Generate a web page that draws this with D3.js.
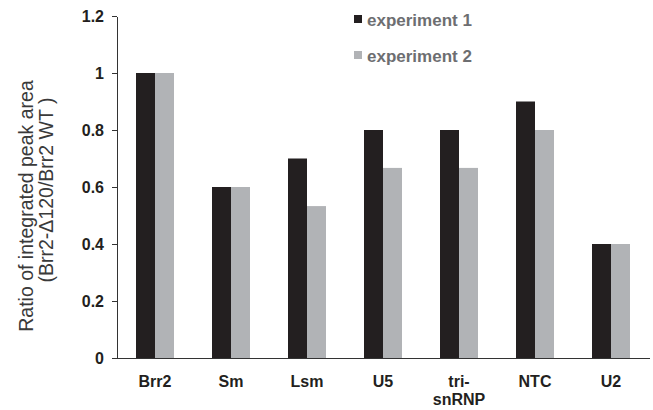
<!DOCTYPE html>
<html>
<head>
<meta charset="utf-8">
<script src="https://cdn.jsdelivr.net/npm/d3@7"></script>
<style>
  body { margin: 0; background: #fff; }
  svg { display: block; font-family: "Liberation Sans", Arial, sans-serif; }
  .axis path, .axis line { stroke: #333; shape-rendering: crispEdges; }
</style>
</head>
<body>
<div id="chart"></div>
<script>
// chart values
const categories = ["Brr2", "Sm", "Lsm", "U5", "tri-\nsnRNP", "NTC", "U2"];
const experiment1 = [1.0, 0.6, 0.7, 0.8, 0.8, 0.9, 0.4];
const experiment2 = [1.0, 0.6, 0.533, 0.667, 0.667, 0.8, 0.4];
const seriesNames = ["experiment 1", "experiment 2"];
const seriesColors = ["#231f20", "#b1b3b6"];
const yTicks = [0, 0.2, 0.4, 0.6, 0.8, 1, 1.2];

const width = 653, height = 410;
const plot = {left: 117, right: 649, top: 16, bottom: 358};

const svg = d3.select("#chart").append("svg")
    .attr("width", width)
    .attr("height", height);

const x = d3.scaleBand()
    .domain(categories)
    .range([plot.left, plot.right])
    .paddingInner(0.5)
    .paddingOuter(0.25);

const xSub = d3.scaleBand()
    .domain([0, 1])
    .range([0, x.bandwidth()]);

const y = d3.scaleLinear()
    .domain([0, 1.2])
    .range([plot.bottom, plot.top]);

// bars
const rows = categories.map((c, i) => ({cat: c, vals: [experiment1[i], experiment2[i]]}));
const groups = svg.selectAll(".grp")
    .data(rows)
    .enter().append("g")
    .attr("class", "grp")
    .attr("transform", d => `translate(${x(d.cat)},0)`);

groups.selectAll("rect")
    .data(d => d.vals)
    .enter().append("rect")
    .attr("x", (d, i) => xSub(i))
    .attr("width", xSub.bandwidth())
    .attr("y", d => y(d))
    .attr("height", d => plot.bottom - y(d))
    .attr("fill", (d, i) => seriesColors[i]);

// y axis
const yAxis = d3.axisLeft(y)
    .tickValues(yTicks)
    .tickFormat(d => d3.format("")(+d.toFixed(1)))
    .tickSize(5)
    .tickPadding(8)
    .tickSizeOuter(0);

const gy = svg.append("g")
    .attr("class", "axis y-axis")
    .attr("transform", `translate(${plot.left},0)`)
    .call(yAxis);

gy.selectAll("text")
    .attr("dy", "0.36em")
    .attr("fill", "#231f20")
    .style("font-size", "16px")
    .style("font-weight", "bold");

// x axis
const xAxis = d3.axisBottom(x)
    .tickSize(0)
    .tickSizeOuter(0);

const gx = svg.append("g")
    .attr("class", "axis x-axis")
    .attr("transform", `translate(0,${plot.bottom})`)
    .call(xAxis);

gx.selectAll("text").each(function(d) {
    const t = d3.select(this);
    t.text(null)
        .attr("dy", null)
        .attr("y", 29)
        .attr("fill", "#231f20")
        .style("font-size", "16px")
        .style("font-weight", "bold");
    d.split("\n").forEach((line, i) => {
        t.append("tspan").attr("x", 0).attr("y", 29 + i * 18).text(line);
    });
});

// y title
const yTitle = ["Ratio of integrated peak area", "(Brr2-\u0394120/Brr2 WT )"];
const titlePos = [{x: 33, y: 206}, {x: 53, y: 190}];
yTitle.forEach((line, i) => {
    svg.append("text")
        .attr("transform", `translate(${titlePos[i].x},${titlePos[i].y}) rotate(-90)`)
        .attr("text-anchor", "middle")
        .attr("fill", "#3a3a3a")
        .style("font-size", "19.5px")
        .text(line);
});

// legend
const legend = svg.selectAll(".legend")
    .data(seriesNames)
    .enter().append("g")
    .attr("class", "legend")
    .attr("transform", (d, i) => `translate(354,${15 + i * 36})`);

legend.append("rect")
    .attr("width", 8)
    .attr("height", 8)
    .attr("fill", (d, i) => seriesColors[i]);

legend.append("text")
    .attr("x", 13)
    .attr("y", 11)
    .attr("fill", "#6d6e71")
    .style("font-size", "17px")
    .style("font-weight", "bold")
    .text(d => d);
</script>
</body>
</html>
